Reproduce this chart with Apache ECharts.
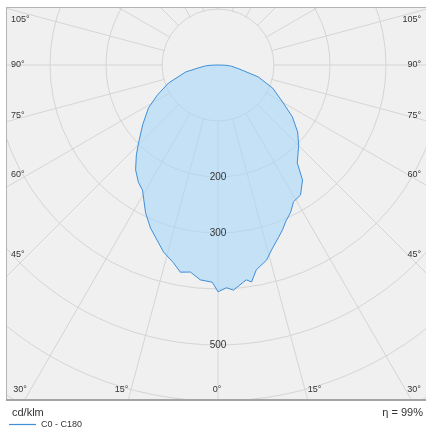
<!DOCTYPE html>
<html>
<head>
<meta charset="utf-8">
<script src="https://cdn.jsdelivr.net/npm/echarts@6/dist/echarts.min.js"></script>
<style>
html,body{margin:0;padding:0;background:#fff;}
#chart{width:427px;height:428px;}
</style>
</head>
<body>
<div id="chart"></div>
<script>
// ---- data (cd/klm), gamma measured from nadir ----
var leftAngles  = [0, 1.5, 4.7, 7.6, 10.3, 12.7, 16.2, 20, 22.5, 26.1, 31.1, 34.2, 38.2, 42.2, 45.5, 51.5, 58.3, 63.6, 70, 77.8, 82, 86, 88, 90];
var leftValues  = [405, 388, 385, 373, 376, 362, 348, 327, 315, 294, 261, 253, 238, 217, 199, 172, 146, 121, 94, 59, 34, 22, 14, 0];
var rightAngles = [0, 2.2, 3.9, 7.5, 8.8, 10.6, 14, 16.1, 19.4, 21.4, 23.3, 26.3, 28.9, 32.4, 36.3, 39, 45.2, 49.9, 55.1, 60.2, 67.1, 73.5, 79, 85, 88, 90];
var rightValues = [405, 398, 403, 387, 392, 372, 359, 344, 326, 316, 305, 293, 279, 275, 255, 225, 203, 186, 162, 133, 106, 75, 40, 24, 14, 0];
var angleTickLabels = [0, 15, 30, 45, 60, 75, 90, 105];
var radiusTickLabels = [200, 300, 500];
var seriesName = 'C0 - C180';
var unitText = 'cd/klm';
var effText = 'η = 99%';

// ---- layout ----
var CX = 218, CY = 65, RMAX = 700, PXR = 392, RINNER = 100;
var BOX = {l: 6, t: 7, r: 426, b: 399};
var FONT = '"Liberation Sans", Arial, sans-serif';
var TXT = '#333';
var LINE = '#3f8fd8';

var data = [];
for (var i = 0; i < leftAngles.length; i++) data.push([leftValues[i], leftAngles[i]]);
for (var j = rightAngles.length - 1; j >= 0; j--) data.push([rightValues[j], 360 - rightAngles[j]]);

function txt(text, x, y, align, size, z) {
  return {type: 'text', z: z || 60, silent: true,
    style: {text: text, x: x, y: y, fill: TXT, font: size + 'px ' + FONT,
      align: align, verticalAlign: 'middle', textAlign: align, textVerticalAlign: 'middle'}};
}

var pxPerUnit = PXR / RMAX;
var g = [];
// empty inner disc (no radial lines inside the first ring)
g.push({type: 'circle', z: 1, silent: true, shape: {cx: CX, cy: CY, r: RINNER * pxPerUnit - 0.8}, style: {fill: '#f0f0f0'}});
// masks outside the box
g.push({type: 'rect', z: 50, silent: true, shape: {x: 0, y: 0, width: 427, height: BOX.t}, style: {fill: '#fff'}});
g.push({type: 'rect', z: 50, silent: true, shape: {x: 0, y: 0, width: BOX.l, height: 428}, style: {fill: '#fff'}});
g.push({type: 'rect', z: 50, silent: true, shape: {x: 0, y: BOX.b, width: 427, height: 428 - BOX.b}, style: {fill: '#fff'}});
g.push({type: 'rect', z: 50, silent: true, shape: {x: BOX.r, y: 0, width: 427 - BOX.r, height: 428}, style: {fill: '#fff'}});
// borders
g.push({type: 'line', z: 55, silent: true, shape: {x1: BOX.l, y1: BOX.t + 0.5, x2: BOX.r, y2: BOX.t + 0.5}, style: {stroke: '#b4b4b4', lineWidth: 1}});
g.push({type: 'line', z: 55, silent: true, shape: {x1: BOX.l + 0.5, y1: BOX.t, x2: BOX.l + 0.5, y2: BOX.b}, style: {stroke: '#b4b4b4', lineWidth: 1}});
g.push({type: 'line', z: 55, silent: true, shape: {x1: BOX.l, y1: BOX.b + 1, x2: BOX.r, y2: BOX.b + 1}, style: {stroke: '#a4a4a4', lineWidth: 2}});

// angle labels at the box edges
angleTickLabels.forEach(function (a) {
  var rad = a * Math.PI / 180;
  var s = Math.sin(rad), c = Math.cos(rad);
  var t = a + '°';
  if (a <= 30) {
    var dy = BOX.b - CY;
    var dx = dy * Math.tan(rad);
    if (a === 0) { g.push(txt(t, CX - 1, BOX.b - 9, 'center', 9)); }
    else {
      g.push(txt(t, Math.max(20, CX - dx - 7), BOX.b - 9, 'center', 9));
      g.push(txt(t, Math.min(414, CX + dx + 7), BOX.b - 9, 'center', 9));
    }
  } else {
    var y = Math.max(20, CY + 190 * c / s);
    g.push(txt(t, 11, y, 'left', 9));
    g.push(txt(t, 421, y, 'right', 9));
  }
});
g.push(txt(unitText, 12, 413, 'left', 11));
g.push(txt(effText, 423, 413, 'right', 11));

var gridLine = {color: '#d5d5d5', width: 1};
var chart = echarts.init(document.getElementById('chart'), null, {renderer: 'canvas'});
chart.setOption({
  backgroundColor: '#f0f0f0',
  animation: false,
  polar: [{center: [CX, CY], radius: PXR}, {center: [CX, CY], radius: PXR}],
  angleAxis: [{
    polarIndex: 0, type: 'value', min: 0, max: 360, interval: 15, startAngle: 270, clockwise: true,
    axisLine: {show: false}, axisTick: {show: false}, axisLabel: {show: false},
    splitLine: {show: true, lineStyle: gridLine}, z: 0
  }, {
    polarIndex: 1, type: 'value', min: 0, max: 360, interval: 15, startAngle: 270, clockwise: true,
    axisLine: {show: false}, axisTick: {show: false}, axisLabel: {show: false}, splitLine: {show: false}
  }],
  radiusAxis: [{
    polarIndex: 0, type: 'value', min: 0, max: RMAX, interval: 100,
    axisLine: {show: false}, axisTick: {show: false}, axisLabel: {show: false},
    splitLine: {show: true, lineStyle: gridLine}, z: 1
  }, {
    polarIndex: 1, type: 'value', min: 0, max: RMAX, interval: 100,
    axisLine: {show: false}, axisTick: {show: false}, splitLine: {show: false},
    axisLabel: {
      margin: 0, align: 'center', verticalAlign: 'middle', color: TXT, fontSize: 10, fontFamily: FONT,
      formatter: function (v) { return radiusTickLabels.indexOf(v) >= 0 ? String(v) : ''; }
    },
    z: 40
  }],
  legend: {
    data: [seriesName],
    left: 9, top: 420, padding: 0, itemWidth: 27, itemHeight: 1.2, icon: 'rect', z: 70,
    itemStyle: {color: LINE, borderWidth: 0},
    textStyle: {fontSize: 9, color: TXT, fontFamily: FONT, padding: [2, 0, 0, 0]}
  },
  graphic: g,
  series: [{
    name: seriesName, type: 'line', coordinateSystem: 'polar', polarIndex: 0, data: data,
    symbol: 'none', smooth: false, z: 2,
    lineStyle: {color: LINE, width: 1},
    itemStyle: {color: LINE},
    areaStyle: {color: 'rgba(168,214,250,0.85)'}
  }]
});
</script>
</body>
</html>
